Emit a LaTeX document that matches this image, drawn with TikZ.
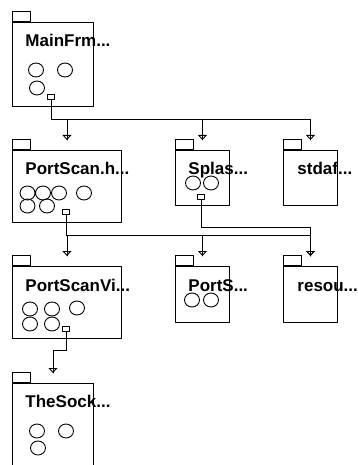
\documentclass[tikz,border=0pt]{standalone}
\usepackage{fontspec}
\setsansfont{Liberation Sans}
\usetikzlibrary{arrows.meta}
\tikzset{
  every picture/.style={line join=round, line cap=round, >=Stealth},
  pkg/.style={draw, rectangle, anchor=north west, inner sep=0pt},
  tab/.style={draw, rectangle, anchor=south west, inner sep=0pt, minimum width=18pt, minimum height=10pt},
  port/.style={draw, rectangle, inner sep=0pt, minimum width=7pt, minimum height=5pt, fill=white},
  pkgname/.style={anchor=base west, inner sep=0pt, font=\sffamily\bfseries\fontsize{17}{20}\selectfont},
  cls/.style={x radius=7.5pt, y radius=7pt},
  dep/.style={-{Triangle[open,length=5pt,width=9pt]}, postaction={draw,-}},
}

\begin{document}
\begin{tikzpicture}[x=1pt,y=-1pt,line width=0.9pt]
\useasboundingbox (0,0) rectangle (358,465);
\clip (0,0) rectangle (358,465);
% first row
\node[pkg, minimum width=81pt, minimum height=84pt] (mf) at (12,22) {};
\node[tab] at (mf.north west) {};
\node[pkgname] at (25,47) {MainFrm...};
\draw (36,70) circle[cls] (65,70) circle[cls] (37,88) circle[cls];
\node[port] (mfp) at (51,97) {};
% second row
\node[pkg, minimum width=109pt, minimum height=72pt] (ps) at (12,150) {};
\node[tab] at (ps.north west) {};
\node[pkgname] at (25,175) {PortScan.h...};
\draw (27.5,193) circle[cls] (43,193) circle[cls] (59,193) circle[cls] (84,193) circle[cls];
\draw (27.5,206) circle[cls] (47,206) circle[cls];
\node[port] (psp) at (66,212) {};

\node[pkg, minimum width=54pt, minimum height=55pt] (sp) at (175,150) {};
\node[tab] at (sp.north west) {};
\node[pkgname] at (188,175) {Splas...};
\draw (193,183) circle[cls] (211,183) circle[cls];
\node[port] (spp) at (201,197) {};

\node[pkg, minimum width=54pt, minimum height=55pt] (sd) at (283,150) {};
\node[tab] at (sd.north west) {};
\node[pkgname] at (297,175) {stdaf...};
% third row
\node[pkg, minimum width=109pt, minimum height=72pt] (psv) at (12,266) {};
\node[tab] at (psv.north west) {};
\node[pkgname] at (25,291) {PortScanVi...};
\draw (30,309) circle[cls] (52,309) circle[cls] (77,308) circle[cls];
\draw (30,324) circle[cls] (52,324) circle[cls];
\node[port] (psvp) at (66,329) {};

\node[pkg, minimum width=54pt, minimum height=56pt] (pts) at (175,266) {};
\node[tab] at (pts.north west) {};
\node[pkgname] at (188,291) {PortS...};
\draw (192,300) circle[cls] (211,300) circle[cls];

\node[pkg, minimum width=54pt, minimum height=56pt] (rs) at (283,266) {};
\node[tab] at (rs.north west) {};
\node[pkgname] at (297,291) {resou...};
% fourth row
\node[pkg, minimum width=81pt, minimum height=100pt] (ts) at (12,383) {};
\node[tab] at (ts.north west) {};
\node[pkgname] at (25,407) {TheSock...};
\draw (37,431) circle[cls] (66,431) circle[cls] (38,448) circle[cls];

% dependencies
\coordinate (psin) at ([yshift=10pt]ps.north);
\coordinate (spin) at ([yshift=10pt]sp.north);
\coordinate (sdin) at ([yshift=10pt]sd.north);
\coordinate (psvin) at ([yshift=10pt]psv.north);
\coordinate (ptsin) at ([yshift=10pt]pts.north);
\coordinate (rsin) at ([yshift=10pt]rs.north);
\coordinate (tsin) at ([yshift=10pt]ts.north);
\coordinate (mfbus) at (51,119);
\coordinate (psbus) at (66,235);
\coordinate (spbus) at (201,227);
\coordinate (psvbus) at (66,350);

\draw[dep] (mfp.south) -- (mfbus) -| (psin);
\draw[dep] (mfp.south) -- (mfbus) -| (spin);
\draw[dep] (mfp.south) -- (mfbus) -| (sdin);
\draw[dep] (psp.south) -- (psbus) -| (psvin);
\draw[dep] (psp.south) -- (psbus) -| (ptsin);
\draw[dep] (psp.south) -- (psbus) -| (rsin);
\draw[dep] (spp.south) -- (spbus) -| (rsin);
\draw[dep] (psvp.south) -- (psvbus) -| (tsin);
\end{tikzpicture}
\end{document}
